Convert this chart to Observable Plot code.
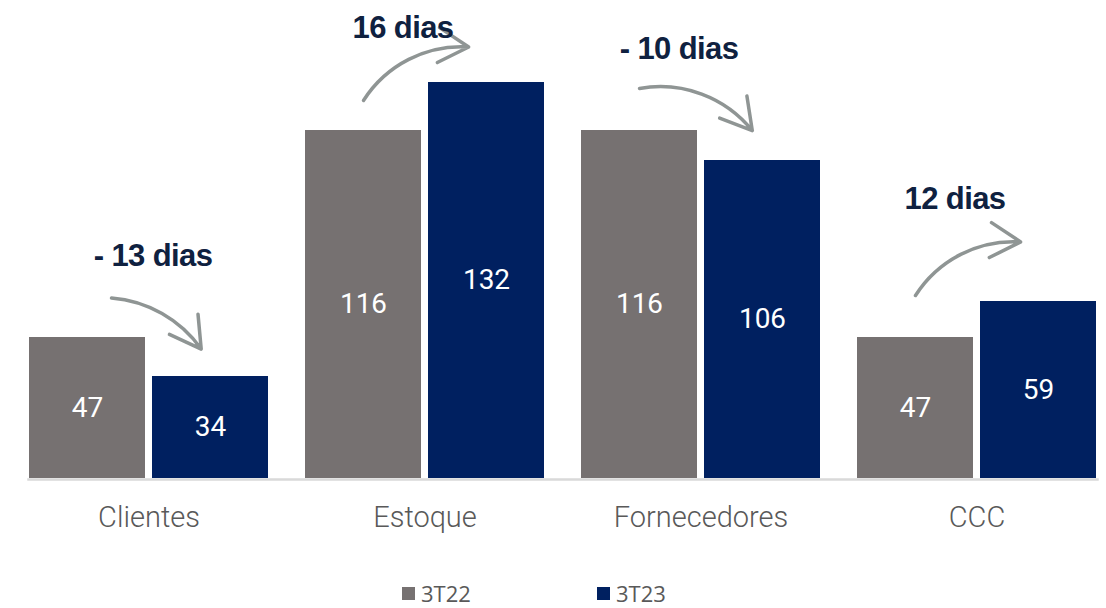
<!DOCTYPE html>
<html><head><meta charset="utf-8">
<script src="https://cdn.jsdelivr.net/npm/d3@7"></script>
<script src="https://cdn.jsdelivr.net/npm/@observablehq/plot@0.6"></script>
<style>
body{margin:0;background:#fff;position:relative;}
#legend{position:relative;height:48px;font-family:"Open Sans",sans-serif;font-size:22px;color:#595959;}
.item{position:absolute;top:21px;display:flex;align-items:center;line-height:24px;}
.sw{width:13px;height:13px;margin-right:6px;}
.ann{letter-spacing:-0.6px;}
</style></head><body><div id="chart"></div>
<script>
const categories = ["Clientes","Estoque","Fornecedores","CCC"];
const series = ["3T22","3T23"];
const values3T22 = [47,116,116,47];
const values3T23 = [34,132,106,59];
const colors = ["#767171","#002060"];
const deltaLabels = ["- 13 dias","16 dias","- 10 dias","12 dias"];
const deltaLabelY = [74,150,143,93];
const arrowStartY = [60,126,130,61];
const arrowEndY = [38,143,111,78];

const rows = [];
categories.forEach((c,i)=>{
  rows.push({category:c, series:series[0], value:values3T22[i]});
  rows.push({category:c, series:series[1], value:values3T23[i]});
});
const ann = categories.map((c,i)=>({category:c, label:deltaLabels[i], y:deltaLabelY[i], y1:arrowStartY[i], y2:arrowEndY[i]}));
const annFirst = ann.filter(d=>d.category===categories[0]);
const annRest = ann.filter(d=>d.category!==categories[0]);

const textCommon = {fx:"category", y:"y", text:"label", fontWeight:"bold", fontSize:31, fill:"#0f2140", fontFamily:"Liberation Sans, Arial, sans-serif", className:"ann"};
const arrowCommon = {fx:"category", x1:()=>series[0], x2:()=>series[1], y1:"y1", y2:"y2", bend:35, stroke:"#8f9594", strokeWidth:3.5, headLength:15, insetEnd:18};

const chart = Plot.plot({
  width:1106, height:560,
  marginTop:0, marginBottom:82, marginLeft:8, marginRight:0,
  style:{fontFamily:"Roboto, sans-serif", fontWeight:300, background:"#fff"},
  fx:{domain:categories, paddingInner:0.127, paddingOuter:0.0507, align:0.68, label:null},
  x:{domain:series, paddingInner:0.056, paddingOuter:0, axis:null},
  y:{domain:[0,478/3], axis:null},
  color:{domain:series, range:colors},
  marks:[
    Plot.frame({facet:"super", anchor:"bottom", stroke:"#d9d9d9", strokeWidth:2.5, dy:1}),
    Plot.barY(rows, {fx:"category", x:"series", y:"value", fill:"series"}),
    Plot.text(rows, {fx:"category", x:"series", y:d=>d.value/2, text:"value", fill:"white", fontSize:28, fontWeight:400}),
    Plot.arrow(annFirst, {...arrowCommon, insetStart:24}),
    Plot.arrow(annRest, arrowCommon),
    Plot.text(annFirst, {...textCommon, dx:4}),
    Plot.text(annRest, {...textCommon, dx:-22}),
    Plot.axisFx({anchor:"bottom", tickSize:0, tickPadding:28, fontSize:29, color:"#595959", label:null})
  ]
});
document.getElementById("chart").appendChild(chart);

const legend = document.createElement("div");
legend.id = "legend";
const legendLeft = [402, 597];
series.forEach((s,i)=>{
  const it = document.createElement("div"); it.className="item"; it.style.left = legendLeft[i] + "px";
  const sw = document.createElement("div"); sw.className="sw"; sw.style.background = colors[i];
  const tx = document.createElement("span"); tx.textContent = s;
  it.appendChild(sw); it.appendChild(tx); legend.appendChild(it);
});
document.body.appendChild(legend);
</script></body></html>
